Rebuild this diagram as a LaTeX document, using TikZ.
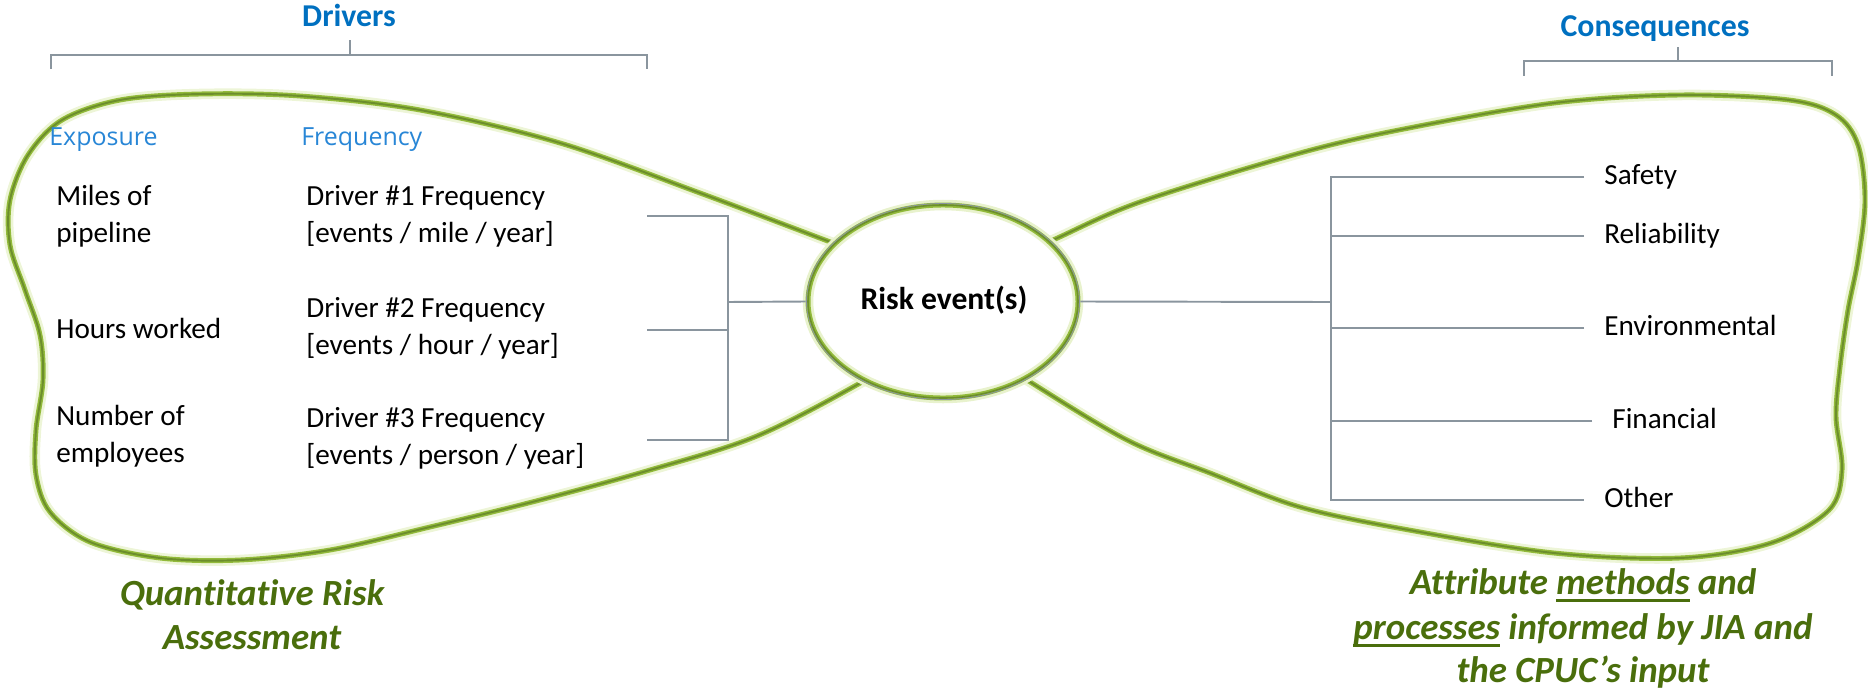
\documentclass[tikz,border=0pt]{standalone}
\usepackage{fontspec}
\setmainfont{Carlito}[Ligatures=NoCommon]
\newfontfamily\subfont{Open Sans}
\usetikzlibrary{shapes.geometric}
\definecolor{hdblue}{RGB}{0,112,192}
\definecolor{subblue}{RGB}{40,134,214}
\definecolor{noteolive}{RGB}{74,110,12}
\definecolor{bowgreen}{RGB}{146,186,58}
\definecolor{bowcore}{RGB}{108,142,44}
\definecolor{bowglow}{RGB}{232,242,205}
\definecolor{linegrey}{RGB}{138,149,158}
\newcommand\ulword[1]{\setbox0=\hbox{#1}\rlap{\rule[-0.2em]{\wd0}{0.06em}}\box0\relax}
\begin{document}
\begin{tikzpicture}[x=0.02cm,y=-0.02cm,
  body/.style={font=\fontsize{16.6}{20}\selectfont, inner sep=0pt, anchor=mid west},
  head/.style={font=\fontsize{18.1}{22}\selectfont\bfseries, text=hdblue, inner sep=0pt, anchor=mid},
  sub/.style={font=\subfont\fontsize{14.2}{17}\selectfont, text=subblue, inner sep=0pt, anchor=mid west},
  note/.style={font=\fontsize{21}{25}\selectfont\bfseries\itshape, text=noteolive, inner sep=0pt, anchor=mid},
  gline/.style={draw=linegrey, line width=1.1pt},
  bowhalo/.style={draw=bowglow, line width=6pt, opacity=0.8, line join=round},
  bowline/.style={draw=bowgreen, line width=2.8pt, line join=round},
  bowinner/.style={draw=bowcore, line width=1.1pt, line join=round},
]
\useasboundingbox (0,0) rectangle (1868,696);

% left lobe of the bow tie
\def\leftlobe{plot[smooth, tension=0.55] coordinates {
  (900,268) (833,243) (700,193) (560,143) (420,110) (300,96) (200,94)
  (120,100) (62,120) (28,155) (10,200) (10,245) (25,290) (40,335)
  (43,380) (36,430) (36,475) (50,512) (90,542) (160,558) (240,560)
  (330,550) (430,527) (540,500) (650,470) (757,436) (862,382) (920,345)}}
% right lobe of the bow tie
\def\rightlobe{plot[smooth, tension=0.55] coordinates {
  (1000,263) (1053,240) (1140,202) (1300,153) (1409,128) (1554,103)
  (1680,95) (1789,100) (1836,115) (1858,145) (1865,200) (1858,260)
  (1848,310) (1840,367) (1836,417) (1842,470) (1829,510) (1771,543)
  (1680,558) (1554,553) (1409,530) (1300,507) (1210,473) (1127,440)
  (1027,380) (990,355)}}
\draw[bowhalo] \leftlobe;
\draw[bowhalo] \rightlobe;
\draw[bowline] \leftlobe;
\draw[bowline] \rightlobe;
\draw[bowinner] \leftlobe;
\draw[bowinner] \rightlobe;

% central risk event
\node[ellipse, minimum width=5.4cm, minimum height=3.86cm, inner sep=0pt,
      fill=white, draw=bowglow, line width=6pt] (riskglow) at (943,301.5) {};
\node[ellipse, minimum width=5.4cm, minimum height=3.86cm, inner sep=0pt,
      draw=bowgreen, line width=2.8pt] (risk) at (943,301.5) {};
\draw[bowcore, line width=0.9pt] (943,301.5) ellipse [x radius=135, y radius=96.5];
\draw[linegrey, line width=0.5pt] (943,301.5) ellipse [x radius=136.5, y radius=98];
\node[font=\fontsize{18}{22}\selectfont\bfseries, inner sep=0pt, anchor=mid] (risktxt) at (944,305) {Risk event(s)};

% headers and brackets
\node[head] (drivers) at (349,22) {Drivers};
\draw[gline] (51,69) -- (51,55) -- (647,55) -- (647,69);
\draw[gline] (350,55) -- (350,40);
\node[head] (cons) at (1655,32) {Consequences};
\draw[gline] (1524,76) -- (1524,61) -- (1832,61) -- (1832,76);
\draw[gline] (1678,61) -- (1678,47);

\node[sub] (expo) at (49,141) {Exposure};
\node[sub] (freq) at (301,141) {Frequency};

% exposure measures
\node[body] (e1a) at (56,201) {Miles of};
\node[body] (e1b) at (56,238) {pipeline};
\node[body] (e2) at (56,334) {Hours worked};
\node[body] (e3a) at (56,421) {Number of};
\node[body] (e3b) at (56,458) {employees};

% driver frequencies
\node[body] (f1a) at (306,201) {Driver \#1 Frequency};
\node[body] (f1b) at (306,238) {[events / mile / year]};
\node[body] (f2a) at (306,313) {Driver \#2 Frequency};
\node[body] (f2b) at (306,350) {[events / hour / year]};
\node[body] (f3a) at (306,423) {Driver \#3 Frequency};
\node[body] (f3b) at (306,460) {[events / person / year]};

% drivers feeding the risk event
\coordinate (l1) at (647,216);
\coordinate (l2) at (647,330);
\coordinate (l3) at (647,440);
\coordinate (ls) at (728,302);
\draw[gline] (l1) -- (728,216) -- (728,440) -- (l3);
\draw[gline] (l2) -- (728,330);
\draw[gline] (ls) -- (risk.west);

% consequences branching off the risk event
\coordinate (rs) at (1331,302);
\coordinate (r1) at (1584,177);
\coordinate (r2) at (1584,236);
\coordinate (r3) at (1584,328);
\coordinate (r4) at (1592,421);
\coordinate (r5) at (1584,500);
\draw[gline] (risk.east) -- (rs);
\draw[gline] (r1) -| (1331,500) -- (r5);
\draw[gline] (r2) -- (1331,236);
\draw[gline] (r3) -- (1331,328);
\draw[gline] (r4) -- (1331,421);
\node[body] (c1) at (1604,180) {Safety};
\node[body] (c2) at (1604,239) {Reliability};
\node[body] (c3) at (1604,331) {Environmental};
\node[body] (c4) at (1612,424) {Financial};
\node[body] (c5) at (1604,503) {Other};

% captions under the lobes
\node[note] (q1) at (252,601) {Quantitative Risk};
\node[note] (q2) at (252,645) {Assessment};
\node[note] (a1) at (1583,590) {Attribute \ulword{methods} and};
\node[note] (a2) at (1583,635) {\ulword{processes} informed by JIA and};
\node[note] (a3) at (1583,678) {the CPUC’s input};
\end{tikzpicture}
\end{document}
